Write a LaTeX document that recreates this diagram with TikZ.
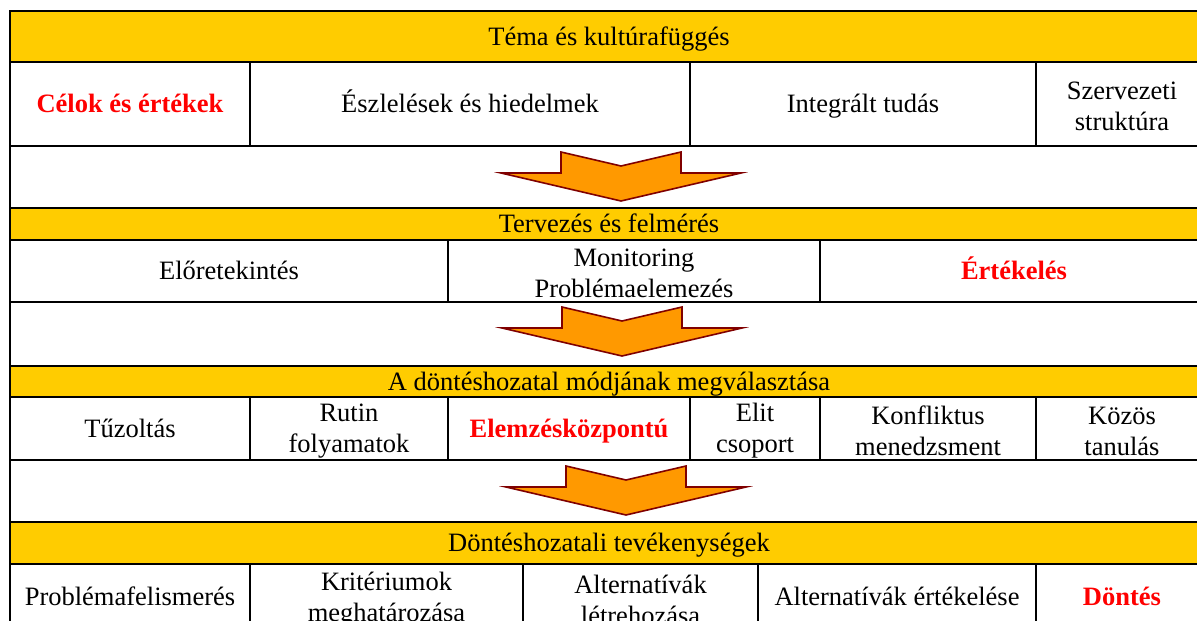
\documentclass[tikz,border=0pt]{standalone}
\usepackage{fontspec}
\setmainfont{Liberation Serif}
\definecolor{bandyellow}{HTML}{FFCC00}
\definecolor{chevfill}{HTML}{FF9900}
\definecolor{chevline}{HTML}{800000}
\definecolor{hotred}{HTML}{FF0000}
% \cellat{name}{x1}{y1}{x2}{y2}{box options}{text options}{text}
\newcommand\cellat[8]{%
  \node[cellbox,#6,minimum width={(#4-#2)*1pt},minimum height={(#5-#3)*1pt}]
    (#1) at ({(#2+#4)/2},{(#3+#5)/2}) {};
  \node[celltext,#7] (#1-t) at ([yshift=-2.5pt]#1.center) {#8};}
\tikzset{
  cellbox/.style={draw=black, line width=2.2pt, inner sep=0pt, outer sep=0pt},
  celltext/.style={inner sep=0pt, align=center, font=\fontsize{26.5}{31}\selectfont},
  oneline/.style={text height=18pt, text depth=6pt},
  hdr/.style={fill=bandyellow},
  keyword/.style={text=hotred, font=\fontsize{26.5}{31}\selectfont\bfseries, oneline},
  chevron/.style={fill=chevfill, draw=chevline, line width=1.6pt, line join=miter},
}
\begin{document}
\begin{tikzpicture}[x=1pt,y=-1pt]
\useasboundingbox (0,0) rectangle (1197,621);
\fill[white] (0,0) rectangle (1197,621);
\clip (0,0) rectangle (1197,621);

% --- theme and culture
\cellat{hdrA}{10}{11}{1208}{62}{hdr}{oneline}{Téma és kultúrafüggés}
\cellat{goals}{10}{62}{250}{146}{}{keyword}{Célok és értékek}
\cellat{percep}{250}{62}{690}{146}{}{oneline}{Észlelések és hiedelmek}
\cellat{know}{690}{62}{1036}{146}{}{oneline}{Integrált tudás}
\cellat{struct}{1036}{62}{1208}{146}{}{}{Szervezeti\\struktúra}
\cellat{gapA}{10}{146}{1208}{208}{}{}{}

% --- planning and assessment
\cellat{hdrB}{10}{208}{1208}{240}{hdr}{oneline}{Tervezés és felmérés}
\cellat{foresight}{10}{240}{448}{302}{}{oneline}{Előretekintés}
\cellat{monitor}{448}{240}{820}{302}{}{}{Monitoring\\Problémaelemezés}
\cellat{evalB}{820}{240}{1208}{302}{}{keyword}{Értékelés}
\cellat{gapB}{10}{302}{1208}{366}{}{}{}

% --- choosing the mode of decision making
\cellat{hdrC}{10}{366}{1208}{397}{hdr}{oneline}{A döntéshozatal módjának megválasztása}
\cellat{fire}{10}{397}{250}{460}{}{oneline}{Tűzoltás}
\cellat{routine}{250}{397}{448}{460}{}{}{Rutin\\folyamatok}
\cellat{analytic}{448}{397}{690}{460}{}{keyword}{Elemzésközpontú}
\cellat{elite}{690}{397}{820}{460}{}{}{Elit\\csoport}
\cellat{conflict}{820}{397}{1036}{460}{}{}{Konfliktus\\menedzsment}
\cellat{learning}{1036}{397}{1208}{460}{}{}{Közös\\tanulás}
\cellat{gapC}{10}{460}{1208}{522}{}{}{}

% --- decision making activities
\cellat{hdrD}{10}{522}{1208}{564}{hdr}{oneline}{Döntéshozatali tevékenységek}
\cellat{recog}{10}{564}{250}{630}{}{oneline}{Problémafelismerés}
\cellat{criteria}{250}{564}{523}{630}{}{}{Kritériumok\\meghatározása}
\cellat{altgen}{523}{564}{758}{630}{}{}{Alternatívák\\létrehozása}
\cellat{alteval}{758}{564}{1036}{630}{}{oneline}{Alternatívák értékelése}
\cellat{decide}{1036}{564}{1208}{630}{}{keyword}{Döntés}

% --- notched down arrows between the blocks
\foreach \cx/\ty in {621/152, 622/307, 626/466}{
  \draw[chevron, shift={(\cx,\ty)}]
    (-120,21) -- (-60,21) -- (-60,0) -- (0,14) -- (60,0) -- (60,21)
    -- (120,21) -- (0,49) -- cycle;
}
\end{tikzpicture}
\end{document}
